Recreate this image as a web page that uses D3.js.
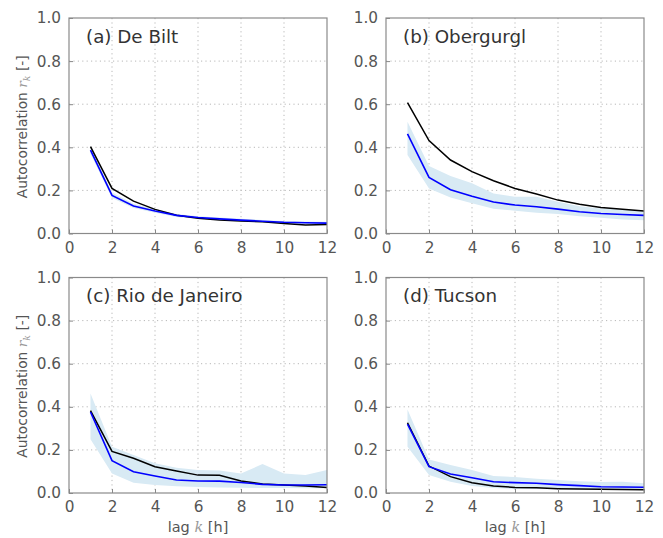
<!DOCTYPE html>
<html>
<head>
<meta charset="utf-8">
<script src="https://cdn.jsdelivr.net/npm/d3@7"></script>
<style>
  html, body { margin: 0; padding: 0; background: #fff; }
  svg { display: block; font-family: "DejaVu Sans", sans-serif; }
</style>
</head>
<body>
<svg id="chart" width="663" height="538"></svg>
<script>
// ---- data ----
const lags = [1, 2, 3, 4, 5, 6, 7, 8, 9, 10, 11, 12];
const xTicks = [0, 2, 4, 6, 8, 10, 12];
const yTicks = [0.0, 0.2, 0.4, 0.6, 0.8, 1.0];
const titles = ["(a) De Bilt", "(b) Obergurgl", "(c) Rio de Janeiro", "(d) Tucson"];

// observed (black)
const obsDeBilt    = [0.403, 0.209, 0.150, 0.112, 0.085, 0.071, 0.063, 0.058, 0.054, 0.046, 0.039, 0.042];
const obsObergurgl = [0.607, 0.431, 0.341, 0.287, 0.245, 0.209, 0.183, 0.155, 0.136, 0.121, 0.113, 0.104];
const obsRio       = [0.382, 0.193, 0.161, 0.122, 0.102, 0.083, 0.082, 0.056, 0.042, 0.037, 0.032, 0.026];
const obsTucson    = [0.326, 0.125, 0.076, 0.048, 0.032, 0.026, 0.024, 0.020, 0.018, 0.017, 0.016, 0.015];

// simulated mean (blue)
const simDeBilt    = [0.387, 0.177, 0.128, 0.104, 0.084, 0.074, 0.068, 0.062, 0.057, 0.052, 0.050, 0.048];
const simObergurgl = [0.462, 0.260, 0.203, 0.173, 0.146, 0.132, 0.124, 0.113, 0.101, 0.093, 0.088, 0.084];
const simRio       = [0.376, 0.150, 0.099, 0.079, 0.060, 0.056, 0.055, 0.049, 0.040, 0.037, 0.037, 0.038];
const simTucson    = [0.320, 0.122, 0.088, 0.071, 0.052, 0.048, 0.045, 0.039, 0.034, 0.029, 0.028, 0.027];

// simulated range (band)
const hiDeBilt     = [0.405, 0.190, 0.138, 0.112, 0.091, 0.080, 0.074, 0.068, 0.063, 0.058, 0.056, 0.054];
const loDeBilt     = [0.370, 0.165, 0.118, 0.096, 0.077, 0.068, 0.062, 0.056, 0.051, 0.046, 0.044, 0.042];
const hiObergurgl  = [0.518, 0.313, 0.267, 0.233, 0.186, 0.170, 0.170, 0.147, 0.127, 0.116, 0.112, 0.106];
const loObergurgl  = [0.364, 0.209, 0.167, 0.140, 0.115, 0.106, 0.096, 0.090, 0.080, 0.073, 0.065, 0.062];
const hiRio        = [0.462, 0.215, 0.176, 0.138, 0.117, 0.107, 0.104, 0.091, 0.134, 0.091, 0.083, 0.107];
const loRio        = [0.249, 0.091, 0.048, 0.037, 0.031, 0.028, 0.025, 0.024, 0.023, 0.023, 0.022, 0.022];
const hiTucson     = [0.388, 0.156, 0.130, 0.107, 0.079, 0.074, 0.066, 0.060, 0.055, 0.051, 0.052, 0.045];
const loTucson     = [0.215, 0.083, 0.052, 0.032, 0.023, 0.019, 0.018, 0.017, 0.016, 0.015, 0.015, 0.014];

const panels = [
  { title: titles[0], obs: obsDeBilt,    sim: simDeBilt,    lo: loDeBilt,    hi: hiDeBilt,    col: 0, row: 0 },
  { title: titles[1], obs: obsObergurgl, sim: simObergurgl, lo: loObergurgl, hi: hiObergurgl, col: 1, row: 0 },
  { title: titles[2], obs: obsRio,       sim: simRio,       lo: loRio,       hi: hiRio,       col: 0, row: 1 },
  { title: titles[3], obs: obsTucson,    sim: simTucson,    lo: loTucson,    hi: hiTucson,    col: 1, row: 1 }
];

// ---- layout ----
const colLeft = [69, 386];
const rowTop = [18, 277.5];
const pw = 258, ph = 215.5;

const svg = d3.select("#chart");

panels.forEach(p => {
  const x0 = colLeft[p.col], y0 = rowTop[p.row];
  const g = svg.append("g").attr("transform", `translate(${x0},${y0})`);
  const x = d3.scaleLinear().domain([0, 12]).range([0, pw]);
  const y = d3.scaleLinear().domain([0, 1]).range([ph, 0]);

  // grid
  g.append("g").selectAll("line").data(xTicks.slice(1, -1)).join("line")
    .attr("x1", d => x(d)).attr("x2", d => x(d)).attr("y1", 0).attr("y2", ph)
    .attr("stroke", "#b8b8b8").attr("stroke-width", 1).attr("stroke-dasharray", "1.2,3.2");
  g.append("g").selectAll("line").data(yTicks.slice(1, -1)).join("line")
    .attr("y1", d => y(d)).attr("y2", d => y(d)).attr("x1", 0).attr("x2", pw)
    .attr("stroke", "#b8b8b8").attr("stroke-width", 1).attr("stroke-dasharray", "1.2,3.2");

  const data = lags.map((k, i) => ({ k, obs: p.obs[i], sim: p.sim[i], lo: p.lo[i], hi: p.hi[i] }));

  // band
  g.append("path").datum(data)
    .attr("d", d3.area().x(d => x(d.k)).y0(d => y(d.lo)).y1(d => y(d.hi)))
    .attr("fill", "#d8eaf4").attr("stroke", "none");

  // observed
  g.append("path").datum(data)
    .attr("d", d3.line().x(d => x(d.k)).y(d => y(d.obs)))
    .attr("fill", "none").attr("stroke", "#000").attr("stroke-width", 1.5);

  // simulated
  g.append("path").datum(data)
    .attr("d", d3.line().x(d => x(d.k)).y(d => y(d.sim)))
    .attr("fill", "none").attr("stroke", "#0000ff").attr("stroke-width", 1.6);

  // axes
  const xAxis = d3.axisBottom(x).tickValues(xTicks).tickFormat(d3.format("d"))
    .tickSizeInner(-4).tickSizeOuter(0).tickPadding(8);
  const yAxis = d3.axisLeft(y).tickValues(yTicks).tickFormat(d3.format(".1f"))
    .tickSizeInner(-4).tickSizeOuter(0).tickPadding(8);

  const gx = g.append("g").attr("transform", `translate(0,${ph})`).call(xAxis);
  const gy = g.append("g").call(yAxis);
  [gx, gy].forEach(a => {
    a.select(".domain").remove();
    a.selectAll(".tick line").attr("stroke", "#888");
    a.selectAll(".tick text").attr("fill", "#555").attr("font-size", 15.3)
      .attr("font-family", "DejaVu Sans, sans-serif");
  });
  gx.selectAll(".tick text").attr("dy", "0.72em");

  // frame
  g.append("rect").attr("x", 0).attr("y", 0).attr("width", pw).attr("height", ph)
    .attr("fill", "none").attr("stroke", "#8a8a8a").attr("stroke-width", 1.2);

  // title
  g.append("text").attr("x", 17).attr("y", 24.5)
    .attr("font-size", 18.3).attr("fill", "#333").text(p.title);

  // y label
  if (p.col === 0) {
    const t = svg.append("text")
      .attr("transform", `translate(${26.5},${y0 + ph / 2 + 1}) rotate(-90)`)
      .attr("text-anchor", "middle").attr("font-size", 13.8).attr("fill", "#555");
    t.append("tspan").text("Autocorrelation  ");
    t.append("tspan").attr("font-style", "italic").attr("fill", "#999")
      .attr("font-family", "DejaVu Serif, serif").text("r");
    t.append("tspan").attr("font-style", "italic").attr("fill", "#999")
      .attr("font-size", 9.5).attr("dy", 3).attr("font-family", "DejaVu Serif, serif").text("k");
    t.append("tspan").attr("dy", -3).text("  [-]");
  }
  // x label
  if (p.row === 1) {
    const t = svg.append("text")
      .attr("x", x0 + pw / 2).attr("y", 532)
      .attr("text-anchor", "middle").attr("font-size", 14.5).attr("fill", "#555");
    t.append("tspan").text("lag ");
    t.append("tspan").attr("font-style", "italic").attr("fill", "#999")
      .attr("font-family", "DejaVu Serif, serif").text("k");
    t.append("tspan").text(" [h]");
  }
});
</script>
</body>
</html>
